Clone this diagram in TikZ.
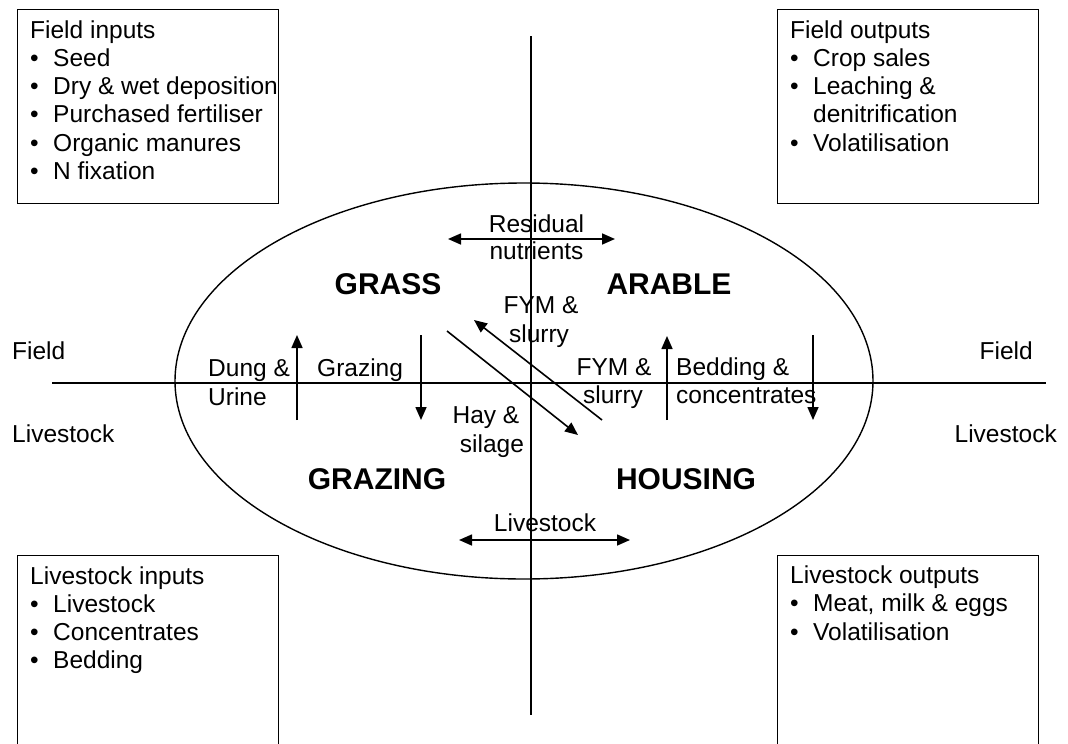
\documentclass[tikz,border=0pt]{standalone}
\usepackage{fontspec}
\setmainfont{Liberation Sans}
\usetikzlibrary{arrows.meta,shapes.geometric}
\begin{document}
\begin{tikzpicture}[x=1pt,y=-1pt,
  txt/.style={inner sep=0pt,font=\fontsize{24.5}{28}\selectfont},
  big/.style={inner sep=0pt,font=\fontsize{30}{34}\selectfont\bfseries},
  frame/.style={draw,line width=1.4pt,inner sep=0pt,anchor=north west,minimum width=261pt,minimum height=194pt},
  axis/.style={line width=1.4pt},
  flow/.style={line width=1.6pt,-{Triangle[length=13pt,width=11pt]}},
  flowboth/.style={line width=1.6pt,{Triangle[length=13pt,width=11pt]}-{Triangle[length=13pt,width=11pt]}}]
\clip (0,0) rectangle (1068,744);
\fill[white] (0,0) rectangle (1068,744);

% boxes
\node[frame] (b1) at (17,9) {};
\node[frame] (b2) at (777,9) {};
\node[frame,minimum height=220pt] (b3) at (17,555) {};
\node[frame,minimum height=220pt] (b4) at (777,555) {};

% box 1
\node[txt,anchor=base west] (b1h) at (30,38) {Field inputs};
\foreach \t [count=\i] in {Seed,Dry \& wet deposition,Purchased fertiliser,Organic manures,N fixation}{
  \node[txt,anchor=base west] (b1d\i) at (30,38+28.3*\i) {•};
  \node[txt,anchor=base west] (b1t\i) at (53,38+28.3*\i) {\t};
}
% box 2
\node[txt,anchor=base west] (b2h) at (790,38) {Field outputs};
\node[txt,anchor=base west] (b2d1) at (790,66.3) {•};
\node[txt,anchor=base west] (b2t1) at (813,66.3) {Crop sales};
\node[txt,anchor=base west] (b2d2) at (790,94.6) {•};
\node[txt,anchor=base west] (b2t2) at (813,94.6) {Leaching \&};
\node[txt,anchor=base west] (b2t3) at (813,122.9) {denitrification};
\node[txt,anchor=base west] (b2d4) at (790,151.2) {•};
\node[txt,anchor=base west] (b2t4) at (813,151.2) {Volatilisation};
% box 3
\node[txt,anchor=base west] (b3h) at (30,584) {Livestock inputs};
\foreach \t [count=\i] in {Livestock,Concentrates,Bedding}{
  \node[txt,anchor=base west] (b3d\i) at (30,584+28.3*\i) {•};
  \node[txt,anchor=base west] (b3t\i) at (53,584+28.3*\i) {\t};
}
% box 4
\node[txt,anchor=base west] (b4h) at (790,583) {Livestock outputs};
\foreach \t [count=\i] in {{Meat, milk \& eggs},Volatilisation}{
  \node[txt,anchor=base west] (b4d\i) at (790,583+28.6*\i) {•};
  \node[txt,anchor=base west] (b4t\i) at (813,583+28.6*\i) {\t};
}

% axes
\coordinate (vt) at (531,36);
\coordinate (vb) at (531,715);
\coordinate (hl) at (52,383);
\coordinate (hr) at (1046,383);
\draw[axis] (vt) -- (vb);
\draw[axis] (hl) -- (hr);

% ellipse
\node[ellipse,draw,line width=1.4pt,inner sep=0pt,minimum width=698pt,minimum height=396pt] (oval) at (524,381) {};

% side labels
\node[txt,anchor=base west] (fL) at (12,359) {Field};
\node[txt,anchor=base west] (lL) at (12,442) {Livestock};
\node[txt,anchor=base east] (fR) at (1033,359) {Field};
\node[txt,anchor=base east] (lR) at (1057,442) {Livestock};

% quadrant labels
\node[big,anchor=base] (grass) at (388,294) {GRASS};
\node[big,anchor=base] (arable) at (669,294) {ARABLE};
\node[big,anchor=base] (grazing) at (377,489) {GRAZING};
\node[big,anchor=base] (housing) at (686,489) {HOUSING};

% residual nutrients
\coordinate (rnL) at (448,239);
\coordinate (rnR) at (615,239);
\draw[flowboth] (rnL) -- (rnR);
\node[txt,anchor=base] (rn1) at (536.5,232) {Residual};
\node[txt,anchor=base] (rn2) at (536.5,259) {nutrients};

% livestock exchange
\coordinate (lvL) at (459,540);
\coordinate (lvR) at (630,540);
\draw[flowboth] (lvL) -- (lvR);
\node[txt,anchor=base] (lv) at (545,531) {Livestock};

% dung & urine
\coordinate (duB) at (297,420);
\coordinate (duT) at (297,335);
\draw[flow] (duB) -- (duT);
\node[txt,anchor=base west] (du1) at (208,376) {Dung \&};
\node[txt,anchor=base west] (du2) at (208,405) {Urine};

% grazing
\coordinate (gzT) at (421,335);
\coordinate (gzB) at (421,420);
\draw[flow] (gzT) -- (gzB);
\node[txt,anchor=base west] (gz) at (317,376) {Grazing};

% FYM & slurry (housing -> arable)
\coordinate (fsB) at (667,420);
\coordinate (fsT) at (667,336);
\draw[flow] (fsB) -- (fsT);
\node[txt,anchor=base] (fs1) at (614,375) {FYM \&};
\node[txt,anchor=base] (fs2) at (613,403) {slurry};

% bedding & concentrates
\coordinate (bcT) at (813,335);
\coordinate (bcB) at (813,420);
\draw[flow] (bcT) -- (bcB);
\node[txt,anchor=base west] (bc1) at (676,375) {Bedding \&};
\node[txt,anchor=base west] (bc2) at (676,403) {concentrates};

% diagonal FYM & slurry (housing -> grass)
\coordinate (dfS) at (602,420);
\coordinate (dfE) at (474,320);
\draw[flow] (dfS) -- (dfE);
\node[txt,anchor=base] (df1) at (541,313) {FYM \&};
\node[txt,anchor=base] (df2) at (539,342) {slurry};

% hay & silage (grass -> housing)
\coordinate (hsS) at (447,331);
\coordinate (hsE) at (578,435);
\draw[flow] (hsS) -- (hsE);
\node[txt,anchor=base] (hs1) at (486,423) {Hay \&};
\node[txt,anchor=base] (hs2) at (492,452) {silage};
\end{tikzpicture}
\end{document}
